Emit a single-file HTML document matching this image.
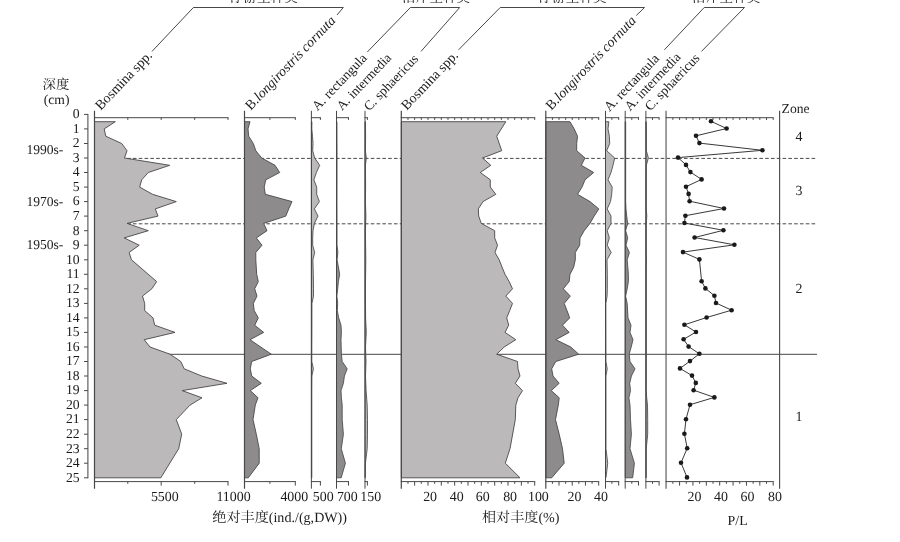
<!DOCTYPE html>
<html lang="zh">
<head>
<meta charset="utf-8">
<title>Cladocera stratigraphy</title>
<style>
html,body{margin:0;padding:0;background:#fff;}
body{width:900px;height:542px;overflow:hidden;}
svg{display:block;}
.t{font-family:"Liberation Serif","Noto Serif CJK SC",serif;fill:#1c1c1c;text-rendering:geometricPrecision;}
</style>
</head>
<body>
<svg width="900" height="542" viewBox="0 0 900 542">
<rect x="0" y="0" width="900" height="542" fill="#ffffff"/>
<line x1="127.15" y1="158.4" x2="816.5" y2="158.4" stroke="#484848" stroke-width="1" stroke-dasharray="3.6 2.2"/>
<line x1="127.15" y1="223.8" x2="816.5" y2="223.8" stroke="#484848" stroke-width="1" stroke-dasharray="3.6 2.2"/>
<line x1="168" y1="354.3" x2="817" y2="354.3" stroke="#484848" stroke-width="1"/>
<polygon points="94.5,121.7 115.3,121.7 104.2,128.9 105.8,136.2 121.7,143.5 127,150.7 124.5,158.0 169.7,165.3 148.3,172.5 141.7,179.8 139.7,187.1 152.5,194.3 176.3,201.6 155.3,208.9 158,216.1 127,223.4 148.3,230.7 124.2,237.9 139.2,245.2 129.1,252.5 131.5,259.8 156.7,281.6 151.8,288.8 142.5,296.1 144.7,303.4 144.7,310.6 153,317.9 154.7,325.2 175,332.4 144.2,339.7 150,347.0 170,354.2 180.8,361.5 184.2,368.8 201.7,376.0 227,383.3 182.2,390.6 202,397.8 190,405.1 176.3,419.6 181.7,434.2 178.7,448.7 160.8,477.8 94.5,477.8" fill="#bbb9ba" stroke="#484848" stroke-width="0.9" stroke-linejoin="miter"/>
<polygon points="244.5,121.7 250,121.7 248,128.9 248.7,136.2 253.3,143.5 255.8,150.7 261.7,158.0 275,165.3 279.7,172.5 265.8,179.8 264.2,187.1 265.3,194.3 292,201.6 288.7,208.9 285.8,216.1 263.7,223.4 267,230.7 256.3,237.9 262,245.2 255.8,252.5 255.8,259.8 256.7,274.3 258.3,281.6 254.7,288.8 257,296.1 253.3,303.4 254.2,310.6 258.3,317.9 254.7,325.2 263.7,332.4 250,339.7 271.3,354.2 251.7,361.5 250.3,368.8 251.7,376.0 261.3,383.3 250.3,390.6 258,397.8 255.3,405.1 253,419.6 256.3,434.2 259.2,448.7 259.2,463.2 248.3,477.8 244.5,477.8" fill="#8d8b8c" stroke="#484848" stroke-width="0.9" stroke-linejoin="miter"/>
<polygon points="401.3,121.7 505.8,121.7 496.7,136.2 501.7,150.7 482.5,158.0 490.8,165.3 480.3,172.5 490.3,179.8 490.3,187.1 495.8,194.3 483,201.6 478.3,208.9 478.7,216.1 481.3,223.4 494.7,230.7 494.7,237.9 497.5,245.2 495,252.5 499.2,259.8 502,267.0 505,274.3 509.2,281.6 512.5,288.8 505.8,296.1 512.5,303.4 509.7,310.6 506.7,317.9 508.7,325.2 505,332.4 515.8,339.7 504.2,347.0 496.7,354.2 517.5,361.5 518,368.8 520,376.0 515.3,383.3 522.5,390.6 518,397.8 515.8,405.1 515.3,419.6 510,448.7 505.3,463.2 520,477.8 401.3,477.8" fill="#bbb9ba" stroke="#484848" stroke-width="0.9" stroke-linejoin="miter"/>
<polygon points="545.8,121.7 570,121.7 574.2,128.9 577.5,136.2 576.7,143.5 576.7,150.7 585,158.0 581.3,165.3 593.7,172.5 585,179.8 582,187.1 577.5,194.3 590,201.6 598.8,208.9 594.2,216.1 590,223.4 584.2,230.7 580,237.9 579.7,245.2 575.3,252.5 575.3,259.8 573.7,267.0 570,274.3 569.2,281.6 563.3,288.8 570.3,296.1 564.2,303.4 567,310.6 569.7,317.9 562.5,325.2 569.2,332.4 555.8,339.7 570.8,347.0 578.7,354.2 555.8,361.5 551.7,368.8 553,376.0 559.2,383.3 551.3,390.6 559.2,397.8 558.3,405.1 555.5,419.6 559.2,434.2 562.5,448.7 564.2,463.2 551.7,477.8 545.8,477.8" fill="#8d8b8c" stroke="#484848" stroke-width="0.9" stroke-linejoin="miter"/>
<polygon points="311.4,121.7 311.91,121.7 311.82,128.9 312.5,136.2 313.0,143.5 312.7,150.7 314.7,158.0 319.7,165.3 316.4,172.5 313.9,179.8 316.7,187.1 316.7,194.3 319.4,201.6 314.4,208.9 318.0,216.1 314.4,223.4 313.0,230.7 312.7,237.9 312.7,245.2 314.7,252.5 312.9,259.8 313.3,274.3 313.5,288.8 313.5,296.1 311.95,303.4 311.91,317.9 311.91,332.4 311.82,347.0 311.82,361.5 313.4,368.8 311.91,376.0 311.82,390.6 311.82,405.1 311.82,419.6 311.82,477.8 311.4,477.8" fill="#bbb9ba" stroke="#484848" stroke-width="0.85" stroke-linejoin="miter"/>
<polygon points="336.5,121.7 336.96,121.7 337.05,158.0 337.01,201.6 337.05,245.2 337.9,252.5 337.1,259.8 338.4,267.0 339.7,274.3 338.4,281.6 337.7,288.8 336.88,296.1 337.7,303.4 337.3,310.6 338.7,317.9 341.0,325.2 341.4,332.4 341.0,339.7 341.2,347.0 341.4,354.2 342.2,361.5 347.2,368.8 344.4,376.0 343.4,383.3 341.0,390.6 341.4,397.8 342.2,405.1 342.2,419.6 343.4,434.2 341.3,448.7 345.4,463.2 341.2,477.8 336.5,477.8" fill="#8d8b8c" stroke="#484848" stroke-width="0.85" stroke-linejoin="miter"/>
<polygon points="365.0,121.7 365.42,121.7 365.6,136.2 365.42,150.7 366.3,158.0 365.46,165.3 365.6,187.1 365.42,201.6 365.9,216.1 365.42,230.7 365.8,259.8 365.42,288.8 365.6,317.9 366.3,332.4 365.51,347.0 366.0,361.5 365.51,376.0 366.1,390.6 367.2,405.1 367.5,419.6 367.5,434.2 367.2,448.7 365.42,463.2 365.33,477.8 365.0,477.8" fill="#bbb9ba" stroke="#484848" stroke-width="0.85" stroke-linejoin="miter"/>
<polygon points="605.5,121.7 608.9,121.7 608.0,128.9 609.4,136.2 609.7,143.5 606.7,150.7 614.7,158.0 613.0,165.3 611.0,172.5 608.0,179.8 612.2,187.1 611.7,194.3 610.5,201.6 607.2,208.9 611.0,216.1 611.0,223.4 607.2,230.7 609.4,237.9 607.2,245.2 611.2,252.5 607.0,259.8 607.3,274.3 607.3,288.8 607.1,296.1 605.88,303.4 605.97,361.5 607.2,368.8 605.97,376.0 606.01,448.7 607.7,463.2 605.97,477.8 605.5,477.8" fill="#bbb9ba" stroke="#484848" stroke-width="0.85" stroke-linejoin="miter"/>
<polygon points="625.2,121.7 625.66,121.7 625.66,201.6 626.0,208.9 626.7,216.1 627.7,223.4 625.62,230.7 627.7,237.9 626.0,245.2 629.4,252.5 627.2,259.8 628.4,274.3 628.4,281.6 627.2,288.8 625.62,296.1 627.2,303.4 628.0,317.9 631.0,325.2 630.0,332.4 633.0,339.7 631.2,347.0 629.2,354.2 630.0,361.5 635.0,368.8 631.4,376.0 629.7,383.3 630.5,390.6 628.9,397.8 630.0,405.1 630.5,419.6 631.4,434.2 630.0,448.7 634.4,463.2 632.7,477.8 625.2,477.8" fill="#8d8b8c" stroke="#484848" stroke-width="0.85" stroke-linejoin="miter"/>
<polygon points="645.9,121.7 646.23,121.7 646.37,128.9 646.32,150.7 648.4,158.0 646.32,165.3 646.27,208.9 646.8,216.1 646.23,223.4 646.27,252.5 646.5,259.8 646.27,267.0 646.23,390.6 646.7,397.8 647.5,405.1 647.7,419.6 647.7,434.2 646.23,448.7 646.18,477.8 645.9,477.8" fill="#bbb9ba" stroke="#484848" stroke-width="0.85" stroke-linejoin="miter"/>
<line x1="87.9" y1="113.9" x2="87.9" y2="478.3" stroke="#484848" stroke-width="1.05"/>
<line x1="84" y1="114.4" x2="87.9" y2="114.4" stroke="#484848" stroke-width="1"/>
<text class="t" x="79.6" y="118.2" text-anchor="end" font-size="13.7">0</text>
<line x1="84" y1="128.9" x2="87.9" y2="128.9" stroke="#484848" stroke-width="1"/>
<text class="t" x="79.6" y="132.70000000000002" text-anchor="end" font-size="13.7">1</text>
<line x1="84" y1="143.5" x2="87.9" y2="143.5" stroke="#484848" stroke-width="1"/>
<text class="t" x="79.6" y="147.3" text-anchor="end" font-size="13.7">2</text>
<line x1="84" y1="158.0" x2="87.9" y2="158.0" stroke="#484848" stroke-width="1"/>
<text class="t" x="79.6" y="161.8" text-anchor="end" font-size="13.7">3</text>
<line x1="84" y1="172.5" x2="87.9" y2="172.5" stroke="#484848" stroke-width="1"/>
<text class="t" x="79.6" y="176.3" text-anchor="end" font-size="13.7">4</text>
<line x1="84" y1="187.1" x2="87.9" y2="187.1" stroke="#484848" stroke-width="1"/>
<text class="t" x="79.6" y="190.9" text-anchor="end" font-size="13.7">5</text>
<line x1="84" y1="201.6" x2="87.9" y2="201.6" stroke="#484848" stroke-width="1"/>
<text class="t" x="79.6" y="205.4" text-anchor="end" font-size="13.7">6</text>
<line x1="84" y1="216.1" x2="87.9" y2="216.1" stroke="#484848" stroke-width="1"/>
<text class="t" x="79.6" y="219.9" text-anchor="end" font-size="13.7">7</text>
<line x1="84" y1="230.7" x2="87.9" y2="230.7" stroke="#484848" stroke-width="1"/>
<text class="t" x="79.6" y="234.5" text-anchor="end" font-size="13.7">8</text>
<line x1="84" y1="245.2" x2="87.9" y2="245.2" stroke="#484848" stroke-width="1"/>
<text class="t" x="79.6" y="249.0" text-anchor="end" font-size="13.7">9</text>
<line x1="84" y1="259.8" x2="87.9" y2="259.8" stroke="#484848" stroke-width="1"/>
<text class="t" x="79.6" y="263.6" text-anchor="end" font-size="13.7">10</text>
<line x1="84" y1="274.3" x2="87.9" y2="274.3" stroke="#484848" stroke-width="1"/>
<text class="t" x="79.6" y="278.1" text-anchor="end" font-size="13.7">11</text>
<line x1="84" y1="288.8" x2="87.9" y2="288.8" stroke="#484848" stroke-width="1"/>
<text class="t" x="79.6" y="292.6" text-anchor="end" font-size="13.7">12</text>
<line x1="84" y1="303.4" x2="87.9" y2="303.4" stroke="#484848" stroke-width="1"/>
<text class="t" x="79.6" y="307.2" text-anchor="end" font-size="13.7">13</text>
<line x1="84" y1="317.9" x2="87.9" y2="317.9" stroke="#484848" stroke-width="1"/>
<text class="t" x="79.6" y="321.7" text-anchor="end" font-size="13.7">14</text>
<line x1="84" y1="332.4" x2="87.9" y2="332.4" stroke="#484848" stroke-width="1"/>
<text class="t" x="79.6" y="336.2" text-anchor="end" font-size="13.7">15</text>
<line x1="84" y1="347.0" x2="87.9" y2="347.0" stroke="#484848" stroke-width="1"/>
<text class="t" x="79.6" y="350.8" text-anchor="end" font-size="13.7">16</text>
<line x1="84" y1="361.5" x2="87.9" y2="361.5" stroke="#484848" stroke-width="1"/>
<text class="t" x="79.6" y="365.3" text-anchor="end" font-size="13.7">17</text>
<line x1="84" y1="376.0" x2="87.9" y2="376.0" stroke="#484848" stroke-width="1"/>
<text class="t" x="79.6" y="379.8" text-anchor="end" font-size="13.7">18</text>
<line x1="84" y1="390.6" x2="87.9" y2="390.6" stroke="#484848" stroke-width="1"/>
<text class="t" x="79.6" y="394.40000000000003" text-anchor="end" font-size="13.7">19</text>
<line x1="84" y1="405.1" x2="87.9" y2="405.1" stroke="#484848" stroke-width="1"/>
<text class="t" x="79.6" y="408.90000000000003" text-anchor="end" font-size="13.7">20</text>
<line x1="84" y1="419.6" x2="87.9" y2="419.6" stroke="#484848" stroke-width="1"/>
<text class="t" x="79.6" y="423.40000000000003" text-anchor="end" font-size="13.7">21</text>
<line x1="84" y1="434.2" x2="87.9" y2="434.2" stroke="#484848" stroke-width="1"/>
<text class="t" x="79.6" y="438.0" text-anchor="end" font-size="13.7">22</text>
<line x1="84" y1="448.7" x2="87.9" y2="448.7" stroke="#484848" stroke-width="1"/>
<text class="t" x="79.6" y="452.5" text-anchor="end" font-size="13.7">23</text>
<line x1="84" y1="463.2" x2="87.9" y2="463.2" stroke="#484848" stroke-width="1"/>
<text class="t" x="79.6" y="467.0" text-anchor="end" font-size="13.7">24</text>
<line x1="84" y1="477.8" x2="87.9" y2="477.8" stroke="#484848" stroke-width="1"/>
<text class="t" x="79.6" y="481.6" text-anchor="end" font-size="13.7">25</text>
<line x1="94.5" y1="110.8" x2="94.5" y2="488.7" stroke="#484848" stroke-width="1.2"/>
<line x1="94.0" y1="117.7" x2="228.5" y2="117.7" stroke="#484848" stroke-width="1"/>
<line x1="94.0" y1="481.6" x2="228.5" y2="481.6" stroke="#484848" stroke-width="1"/>
<line x1="127.8" y1="117.7" x2="127.8" y2="119.9" stroke="#484848" stroke-width="1"/>
<line x1="194.7" y1="117.7" x2="194.7" y2="119.9" stroke="#484848" stroke-width="1"/>
<line x1="161.2" y1="117.7" x2="161.2" y2="119.9" stroke="#484848" stroke-width="1"/>
<line x1="228" y1="117.7" x2="228" y2="119.9" stroke="#484848" stroke-width="1"/>
<line x1="127.8" y1="481.6" x2="127.8" y2="483.8" stroke="#484848" stroke-width="1"/>
<line x1="194.7" y1="481.6" x2="194.7" y2="483.8" stroke="#484848" stroke-width="1"/>
<line x1="161.2" y1="481.6" x2="161.2" y2="485.6" stroke="#484848" stroke-width="1"/>
<line x1="228" y1="481.6" x2="228" y2="485.6" stroke="#484848" stroke-width="1"/>
<line x1="244.5" y1="110.8" x2="244.5" y2="488.7" stroke="#484848" stroke-width="1.2"/>
<line x1="244.0" y1="117.7" x2="295.8" y2="117.7" stroke="#484848" stroke-width="1"/>
<line x1="244.0" y1="481.6" x2="295.8" y2="481.6" stroke="#484848" stroke-width="1"/>
<line x1="269.9" y1="117.7" x2="269.9" y2="119.9" stroke="#484848" stroke-width="1"/>
<line x1="295.3" y1="117.7" x2="295.3" y2="119.9" stroke="#484848" stroke-width="1"/>
<line x1="269.9" y1="481.6" x2="269.9" y2="483.8" stroke="#484848" stroke-width="1"/>
<line x1="295.3" y1="481.6" x2="295.3" y2="485.6" stroke="#484848" stroke-width="1"/>
<line x1="311.4" y1="110.8" x2="311.4" y2="488.7" stroke="#484848" stroke-width="1.0"/>
<line x1="310.9" y1="117.7" x2="320.9" y2="117.7" stroke="#484848" stroke-width="1"/>
<line x1="310.9" y1="481.6" x2="320.9" y2="481.6" stroke="#484848" stroke-width="1"/>
<line x1="320.4" y1="117.7" x2="320.4" y2="119.9" stroke="#484848" stroke-width="1"/>
<line x1="320.4" y1="481.6" x2="320.4" y2="485.6" stroke="#484848" stroke-width="1"/>
<line x1="336.5" y1="110.8" x2="336.5" y2="488.7" stroke="#484848" stroke-width="1.0"/>
<line x1="336.0" y1="117.7" x2="349.0" y2="117.7" stroke="#484848" stroke-width="1"/>
<line x1="336.0" y1="481.6" x2="349.0" y2="481.6" stroke="#484848" stroke-width="1"/>
<line x1="348.5" y1="117.7" x2="348.5" y2="119.9" stroke="#484848" stroke-width="1"/>
<line x1="348.5" y1="481.6" x2="348.5" y2="485.6" stroke="#484848" stroke-width="1"/>
<line x1="365.0" y1="110.8" x2="365.0" y2="488.7" stroke="#484848" stroke-width="1.0"/>
<line x1="364.5" y1="117.7" x2="367.9" y2="117.7" stroke="#484848" stroke-width="1"/>
<line x1="364.5" y1="481.6" x2="367.9" y2="481.6" stroke="#484848" stroke-width="1"/>
<line x1="367.4" y1="117.7" x2="367.4" y2="119.9" stroke="#484848" stroke-width="1"/>
<line x1="367.4" y1="481.6" x2="367.4" y2="485.6" stroke="#484848" stroke-width="1"/>
<line x1="401.3" y1="110.8" x2="401.3" y2="488.7" stroke="#484848" stroke-width="1.2"/>
<line x1="400.8" y1="117.7" x2="535.2" y2="117.7" stroke="#484848" stroke-width="1"/>
<line x1="400.8" y1="481.6" x2="535.2" y2="481.6" stroke="#484848" stroke-width="1"/>
<line x1="407.97" y1="117.7" x2="407.97" y2="119.9" stroke="#484848" stroke-width="1"/>
<line x1="421.31" y1="117.7" x2="421.31" y2="119.9" stroke="#484848" stroke-width="1"/>
<line x1="434.65000000000003" y1="117.7" x2="434.65000000000003" y2="119.9" stroke="#484848" stroke-width="1"/>
<line x1="447.99" y1="117.7" x2="447.99" y2="119.9" stroke="#484848" stroke-width="1"/>
<line x1="461.33000000000004" y1="117.7" x2="461.33000000000004" y2="119.9" stroke="#484848" stroke-width="1"/>
<line x1="474.67" y1="117.7" x2="474.67" y2="119.9" stroke="#484848" stroke-width="1"/>
<line x1="488.01" y1="117.7" x2="488.01" y2="119.9" stroke="#484848" stroke-width="1"/>
<line x1="501.35" y1="117.7" x2="501.35" y2="119.9" stroke="#484848" stroke-width="1"/>
<line x1="514.69" y1="117.7" x2="514.69" y2="119.9" stroke="#484848" stroke-width="1"/>
<line x1="528.03" y1="117.7" x2="528.03" y2="119.9" stroke="#484848" stroke-width="1"/>
<line x1="414.64" y1="117.7" x2="414.64" y2="119.9" stroke="#484848" stroke-width="1"/>
<line x1="427.98" y1="117.7" x2="427.98" y2="119.9" stroke="#484848" stroke-width="1"/>
<line x1="441.32" y1="117.7" x2="441.32" y2="119.9" stroke="#484848" stroke-width="1"/>
<line x1="454.66" y1="117.7" x2="454.66" y2="119.9" stroke="#484848" stroke-width="1"/>
<line x1="468.0" y1="117.7" x2="468.0" y2="119.9" stroke="#484848" stroke-width="1"/>
<line x1="481.34000000000003" y1="117.7" x2="481.34000000000003" y2="119.9" stroke="#484848" stroke-width="1"/>
<line x1="494.68" y1="117.7" x2="494.68" y2="119.9" stroke="#484848" stroke-width="1"/>
<line x1="508.02" y1="117.7" x2="508.02" y2="119.9" stroke="#484848" stroke-width="1"/>
<line x1="521.36" y1="117.7" x2="521.36" y2="119.9" stroke="#484848" stroke-width="1"/>
<line x1="534.7" y1="117.7" x2="534.7" y2="119.9" stroke="#484848" stroke-width="1"/>
<line x1="407.97" y1="481.6" x2="407.97" y2="483.8" stroke="#484848" stroke-width="1"/>
<line x1="421.31" y1="481.6" x2="421.31" y2="483.8" stroke="#484848" stroke-width="1"/>
<line x1="434.65000000000003" y1="481.6" x2="434.65000000000003" y2="483.8" stroke="#484848" stroke-width="1"/>
<line x1="447.99" y1="481.6" x2="447.99" y2="483.8" stroke="#484848" stroke-width="1"/>
<line x1="461.33000000000004" y1="481.6" x2="461.33000000000004" y2="483.8" stroke="#484848" stroke-width="1"/>
<line x1="474.67" y1="481.6" x2="474.67" y2="483.8" stroke="#484848" stroke-width="1"/>
<line x1="488.01" y1="481.6" x2="488.01" y2="483.8" stroke="#484848" stroke-width="1"/>
<line x1="501.35" y1="481.6" x2="501.35" y2="483.8" stroke="#484848" stroke-width="1"/>
<line x1="514.69" y1="481.6" x2="514.69" y2="483.8" stroke="#484848" stroke-width="1"/>
<line x1="528.03" y1="481.6" x2="528.03" y2="483.8" stroke="#484848" stroke-width="1"/>
<line x1="414.64" y1="481.6" x2="414.64" y2="485.6" stroke="#484848" stroke-width="1"/>
<line x1="427.98" y1="481.6" x2="427.98" y2="485.6" stroke="#484848" stroke-width="1"/>
<line x1="441.32" y1="481.6" x2="441.32" y2="485.6" stroke="#484848" stroke-width="1"/>
<line x1="454.66" y1="481.6" x2="454.66" y2="485.6" stroke="#484848" stroke-width="1"/>
<line x1="468.0" y1="481.6" x2="468.0" y2="485.6" stroke="#484848" stroke-width="1"/>
<line x1="481.34000000000003" y1="481.6" x2="481.34000000000003" y2="485.6" stroke="#484848" stroke-width="1"/>
<line x1="494.68" y1="481.6" x2="494.68" y2="485.6" stroke="#484848" stroke-width="1"/>
<line x1="508.02" y1="481.6" x2="508.02" y2="485.6" stroke="#484848" stroke-width="1"/>
<line x1="521.36" y1="481.6" x2="521.36" y2="485.6" stroke="#484848" stroke-width="1"/>
<line x1="534.7" y1="481.6" x2="534.7" y2="485.6" stroke="#484848" stroke-width="1"/>
<line x1="545.8" y1="110.8" x2="545.8" y2="488.7" stroke="#484848" stroke-width="1.2"/>
<line x1="545.3" y1="117.7" x2="599.18" y2="117.7" stroke="#484848" stroke-width="1"/>
<line x1="545.3" y1="481.6" x2="599.18" y2="481.6" stroke="#484848" stroke-width="1"/>
<line x1="552.41" y1="117.7" x2="552.41" y2="119.9" stroke="#484848" stroke-width="1"/>
<line x1="565.63" y1="117.7" x2="565.63" y2="119.9" stroke="#484848" stroke-width="1"/>
<line x1="578.8499999999999" y1="117.7" x2="578.8499999999999" y2="119.9" stroke="#484848" stroke-width="1"/>
<line x1="592.0699999999999" y1="117.7" x2="592.0699999999999" y2="119.9" stroke="#484848" stroke-width="1"/>
<line x1="559.02" y1="117.7" x2="559.02" y2="119.9" stroke="#484848" stroke-width="1"/>
<line x1="572.24" y1="117.7" x2="572.24" y2="119.9" stroke="#484848" stroke-width="1"/>
<line x1="585.4599999999999" y1="117.7" x2="585.4599999999999" y2="119.9" stroke="#484848" stroke-width="1"/>
<line x1="598.68" y1="117.7" x2="598.68" y2="119.9" stroke="#484848" stroke-width="1"/>
<line x1="552.41" y1="481.6" x2="552.41" y2="483.8" stroke="#484848" stroke-width="1"/>
<line x1="565.63" y1="481.6" x2="565.63" y2="483.8" stroke="#484848" stroke-width="1"/>
<line x1="578.8499999999999" y1="481.6" x2="578.8499999999999" y2="483.8" stroke="#484848" stroke-width="1"/>
<line x1="592.0699999999999" y1="481.6" x2="592.0699999999999" y2="483.8" stroke="#484848" stroke-width="1"/>
<line x1="559.02" y1="481.6" x2="559.02" y2="485.6" stroke="#484848" stroke-width="1"/>
<line x1="572.24" y1="481.6" x2="572.24" y2="485.6" stroke="#484848" stroke-width="1"/>
<line x1="585.4599999999999" y1="481.6" x2="585.4599999999999" y2="485.6" stroke="#484848" stroke-width="1"/>
<line x1="598.68" y1="481.6" x2="598.68" y2="485.6" stroke="#484848" stroke-width="1"/>
<line x1="605.5" y1="110.8" x2="605.5" y2="488.7" stroke="#484848" stroke-width="1.0"/>
<line x1="605.0" y1="117.7" x2="619.2" y2="117.7" stroke="#484848" stroke-width="1"/>
<line x1="605.0" y1="481.6" x2="619.2" y2="481.6" stroke="#484848" stroke-width="1"/>
<line x1="611.9" y1="117.7" x2="611.9" y2="119.9" stroke="#484848" stroke-width="1"/>
<line x1="618.7" y1="117.7" x2="618.7" y2="119.9" stroke="#484848" stroke-width="1"/>
<line x1="611.9" y1="481.6" x2="611.9" y2="483.8" stroke="#484848" stroke-width="1"/>
<line x1="618.7" y1="481.6" x2="618.7" y2="485.6" stroke="#484848" stroke-width="1"/>
<line x1="625.2" y1="110.8" x2="625.2" y2="488.7" stroke="#484848" stroke-width="1.0"/>
<line x1="624.7" y1="117.7" x2="639.0" y2="117.7" stroke="#484848" stroke-width="1"/>
<line x1="624.7" y1="481.6" x2="639.0" y2="481.6" stroke="#484848" stroke-width="1"/>
<line x1="631.8" y1="117.7" x2="631.8" y2="119.9" stroke="#484848" stroke-width="1"/>
<line x1="638.5" y1="117.7" x2="638.5" y2="119.9" stroke="#484848" stroke-width="1"/>
<line x1="631.8" y1="481.6" x2="631.8" y2="483.8" stroke="#484848" stroke-width="1"/>
<line x1="638.5" y1="481.6" x2="638.5" y2="485.6" stroke="#484848" stroke-width="1"/>
<line x1="645.9" y1="110.8" x2="645.9" y2="488.7" stroke="#484848" stroke-width="1.0"/>
<line x1="645.4" y1="117.7" x2="659.6" y2="117.7" stroke="#484848" stroke-width="1"/>
<line x1="645.4" y1="481.6" x2="659.6" y2="481.6" stroke="#484848" stroke-width="1"/>
<line x1="652.5" y1="117.7" x2="652.5" y2="119.9" stroke="#484848" stroke-width="1"/>
<line x1="659.1" y1="117.7" x2="659.1" y2="119.9" stroke="#484848" stroke-width="1"/>
<line x1="652.5" y1="481.6" x2="652.5" y2="483.8" stroke="#484848" stroke-width="1"/>
<line x1="659.1" y1="481.6" x2="659.1" y2="485.6" stroke="#484848" stroke-width="1"/>
<line x1="666.05" y1="110.8" x2="666.05" y2="488.7" stroke="#484848" stroke-width="1.05"/>
<line x1="665.55" y1="117.7" x2="773.7" y2="117.7" stroke="#484848" stroke-width="1"/>
<line x1="665.55" y1="481.6" x2="773.7" y2="481.6" stroke="#484848" stroke-width="1"/>
<line x1="672.8875" y1="117.7" x2="672.8875" y2="119.9" stroke="#484848" stroke-width="1"/>
<line x1="686.2625" y1="117.7" x2="686.2625" y2="119.9" stroke="#484848" stroke-width="1"/>
<line x1="699.6375" y1="117.7" x2="699.6375" y2="119.9" stroke="#484848" stroke-width="1"/>
<line x1="713.0125" y1="117.7" x2="713.0125" y2="119.9" stroke="#484848" stroke-width="1"/>
<line x1="726.3875" y1="117.7" x2="726.3875" y2="119.9" stroke="#484848" stroke-width="1"/>
<line x1="739.7625" y1="117.7" x2="739.7625" y2="119.9" stroke="#484848" stroke-width="1"/>
<line x1="753.1375" y1="117.7" x2="753.1375" y2="119.9" stroke="#484848" stroke-width="1"/>
<line x1="766.5125" y1="117.7" x2="766.5125" y2="119.9" stroke="#484848" stroke-width="1"/>
<line x1="679.575" y1="117.7" x2="679.575" y2="119.9" stroke="#484848" stroke-width="1"/>
<line x1="692.95" y1="117.7" x2="692.95" y2="119.9" stroke="#484848" stroke-width="1"/>
<line x1="706.325" y1="117.7" x2="706.325" y2="119.9" stroke="#484848" stroke-width="1"/>
<line x1="719.7" y1="117.7" x2="719.7" y2="119.9" stroke="#484848" stroke-width="1"/>
<line x1="733.075" y1="117.7" x2="733.075" y2="119.9" stroke="#484848" stroke-width="1"/>
<line x1="746.45" y1="117.7" x2="746.45" y2="119.9" stroke="#484848" stroke-width="1"/>
<line x1="759.825" y1="117.7" x2="759.825" y2="119.9" stroke="#484848" stroke-width="1"/>
<line x1="773.2" y1="117.7" x2="773.2" y2="119.9" stroke="#484848" stroke-width="1"/>
<line x1="672.8875" y1="481.6" x2="672.8875" y2="483.8" stroke="#484848" stroke-width="1"/>
<line x1="686.2625" y1="481.6" x2="686.2625" y2="483.8" stroke="#484848" stroke-width="1"/>
<line x1="699.6375" y1="481.6" x2="699.6375" y2="483.8" stroke="#484848" stroke-width="1"/>
<line x1="713.0125" y1="481.6" x2="713.0125" y2="483.8" stroke="#484848" stroke-width="1"/>
<line x1="726.3875" y1="481.6" x2="726.3875" y2="483.8" stroke="#484848" stroke-width="1"/>
<line x1="739.7625" y1="481.6" x2="739.7625" y2="483.8" stroke="#484848" stroke-width="1"/>
<line x1="753.1375" y1="481.6" x2="753.1375" y2="483.8" stroke="#484848" stroke-width="1"/>
<line x1="766.5125" y1="481.6" x2="766.5125" y2="483.8" stroke="#484848" stroke-width="1"/>
<line x1="679.575" y1="481.6" x2="679.575" y2="485.6" stroke="#484848" stroke-width="1"/>
<line x1="692.95" y1="481.6" x2="692.95" y2="485.6" stroke="#484848" stroke-width="1"/>
<line x1="706.325" y1="481.6" x2="706.325" y2="485.6" stroke="#484848" stroke-width="1"/>
<line x1="719.7" y1="481.6" x2="719.7" y2="485.6" stroke="#484848" stroke-width="1"/>
<line x1="733.075" y1="481.6" x2="733.075" y2="485.6" stroke="#484848" stroke-width="1"/>
<line x1="746.45" y1="481.6" x2="746.45" y2="485.6" stroke="#484848" stroke-width="1"/>
<line x1="759.825" y1="481.6" x2="759.825" y2="485.6" stroke="#484848" stroke-width="1"/>
<line x1="773.2" y1="481.6" x2="773.2" y2="485.6" stroke="#484848" stroke-width="1"/>
<line x1="779.6" y1="110.8" x2="779.6" y2="488.7" stroke="#484848" stroke-width="1.1"/>
<polyline fill="none" stroke="#222" stroke-width="0.9" points="711,121.3 726.6,128.5 696,135.8 699.4,143.1 762.4,150.3 678,157.6 686,164.9 690.4,172.1 701.6,179.4 686,186.7 688.6,193.9 689.6,201.2 724,208.5 685.4,215.7 684.4,223.0 723.4,230.3 694.6,237.5 734.4,244.8 683,252.1 699.4,259.4 701.6,281.2 705.4,288.4 714.4,295.7 716,303.0 731.6,310.2 706.6,317.5 684.4,324.8 696,332.0 683.6,339.3 688.6,346.6 699.4,353.8 690,361.1 680,368.4 692,375.6 695.8,382.9 693.6,390.2 714.4,397.4 690,404.7 686,419.2 684.4,433.8 687.2,448.3 681,462.8 687,477.4"/>
<circle cx="711" cy="121.3" r="2.3" fill="#1a1a1a"/>
<circle cx="726.6" cy="128.5" r="2.3" fill="#1a1a1a"/>
<circle cx="696" cy="135.8" r="2.3" fill="#1a1a1a"/>
<circle cx="699.4" cy="143.1" r="2.3" fill="#1a1a1a"/>
<circle cx="762.4" cy="150.3" r="2.3" fill="#1a1a1a"/>
<circle cx="678" cy="157.6" r="2.3" fill="#1a1a1a"/>
<circle cx="686" cy="164.9" r="2.3" fill="#1a1a1a"/>
<circle cx="690.4" cy="172.1" r="2.3" fill="#1a1a1a"/>
<circle cx="701.6" cy="179.4" r="2.3" fill="#1a1a1a"/>
<circle cx="686" cy="186.7" r="2.3" fill="#1a1a1a"/>
<circle cx="688.6" cy="193.9" r="2.3" fill="#1a1a1a"/>
<circle cx="689.6" cy="201.2" r="2.3" fill="#1a1a1a"/>
<circle cx="724" cy="208.5" r="2.3" fill="#1a1a1a"/>
<circle cx="685.4" cy="215.7" r="2.3" fill="#1a1a1a"/>
<circle cx="684.4" cy="223.0" r="2.3" fill="#1a1a1a"/>
<circle cx="723.4" cy="230.3" r="2.3" fill="#1a1a1a"/>
<circle cx="694.6" cy="237.5" r="2.3" fill="#1a1a1a"/>
<circle cx="734.4" cy="244.8" r="2.3" fill="#1a1a1a"/>
<circle cx="683" cy="252.1" r="2.3" fill="#1a1a1a"/>
<circle cx="699.4" cy="259.4" r="2.3" fill="#1a1a1a"/>
<circle cx="701.6" cy="281.2" r="2.3" fill="#1a1a1a"/>
<circle cx="705.4" cy="288.4" r="2.3" fill="#1a1a1a"/>
<circle cx="714.4" cy="295.7" r="2.3" fill="#1a1a1a"/>
<circle cx="716" cy="303.0" r="2.3" fill="#1a1a1a"/>
<circle cx="731.6" cy="310.2" r="2.3" fill="#1a1a1a"/>
<circle cx="706.6" cy="317.5" r="2.3" fill="#1a1a1a"/>
<circle cx="684.4" cy="324.8" r="2.3" fill="#1a1a1a"/>
<circle cx="696" cy="332.0" r="2.3" fill="#1a1a1a"/>
<circle cx="683.6" cy="339.3" r="2.3" fill="#1a1a1a"/>
<circle cx="688.6" cy="346.6" r="2.3" fill="#1a1a1a"/>
<circle cx="699.4" cy="353.8" r="2.3" fill="#1a1a1a"/>
<circle cx="690" cy="361.1" r="2.3" fill="#1a1a1a"/>
<circle cx="680" cy="368.4" r="2.3" fill="#1a1a1a"/>
<circle cx="692" cy="375.6" r="2.3" fill="#1a1a1a"/>
<circle cx="695.8" cy="382.9" r="2.3" fill="#1a1a1a"/>
<circle cx="693.6" cy="390.2" r="2.3" fill="#1a1a1a"/>
<circle cx="714.4" cy="397.4" r="2.3" fill="#1a1a1a"/>
<circle cx="690" cy="404.7" r="2.3" fill="#1a1a1a"/>
<circle cx="686" cy="419.2" r="2.3" fill="#1a1a1a"/>
<circle cx="684.4" cy="433.8" r="2.3" fill="#1a1a1a"/>
<circle cx="687.2" cy="448.3" r="2.3" fill="#1a1a1a"/>
<circle cx="681" cy="462.8" r="2.3" fill="#1a1a1a"/>
<circle cx="687" cy="477.4" r="2.3" fill="#1a1a1a"/>
<polyline fill="none" stroke="#484848" stroke-width="1" points="152,51.4 193.4,7.5 343.3,7.5 337,15"/>
<polyline fill="none" stroke="#484848" stroke-width="1" points="367.3,52 410.4,7.5 459.7,7.5 421,51.4"/>
<polyline fill="none" stroke="#484848" stroke-width="1" points="458.6,49.8 500.2,7.5 644.5,7.5 636.3,15.5"/>
<polyline fill="none" stroke="#484848" stroke-width="1" points="664.4,49.8 704.2,7.5 744.5,7.5 701.5,51.4"/>
<text class="t" x="263.8" y="1.6" text-anchor="middle" font-size="13.6">浮游型种类</text>
<text class="t" x="436.2" y="1.6" text-anchor="middle" font-size="13.6">沿岸型种类</text>
<text class="t" x="572.6" y="1.6" text-anchor="middle" font-size="13.6">浮游型种类</text>
<text class="t" x="726.3" y="1.6" text-anchor="middle" font-size="13.6">沿岸型种类</text>
<text class="t" font-size="13.9" transform="translate(100.7,110.7) rotate(-46.3)">Bosmina spp.</text>
<text class="t" font-size="13.9" transform="translate(250.7,110.7) rotate(-46.3)">B.<tspan font-style="italic">longirostris cornuta</tspan></text>
<text class="t" font-size="13.5" transform="translate(317.5,111.2) rotate(-46.3)">A. rectangula</text>
<text class="t" font-size="13.2" transform="translate(342.0,110.9) rotate(-46.3)">A. intermedia</text>
<text class="t" font-size="13.4" transform="translate(369.2,111.60000000000001) rotate(-46.3)">C. sphaericus</text>
<text class="t" font-size="13.9" transform="translate(406.7,110.7) rotate(-46.3)">Bosmina spp.</text>
<text class="t" font-size="13.9" transform="translate(551.2,110.7) rotate(-46.3)">B.<tspan font-style="italic">longirostris cornuta</tspan></text>
<text class="t" font-size="13.6" transform="translate(609.4000000000001,112.10000000000001) rotate(-46.3)">A. rectangula</text>
<text class="t" font-size="13.5" transform="translate(630.0,111.4) rotate(-46.3)">A. intermedia</text>
<text class="t" font-size="13.5" transform="translate(650.2,111.4) rotate(-46.3)">C. sphaericus</text>
<text class="t" x="56" y="88.9" text-anchor="middle" font-size="13.4">深度</text>
<text class="t" x="56.6" y="104.4" text-anchor="middle" font-size="13.6">(cm)</text>
<text class="t" x="63.4" y="154.4" text-anchor="end" font-size="13.6">1990s-</text>
<text class="t" x="63.4" y="205.7" text-anchor="end" font-size="13.6">1970s-</text>
<text class="t" x="63.4" y="249.1" text-anchor="end" font-size="13.6">1950s-</text>
<text class="t" x="164.8" y="501.4" text-anchor="middle" font-size="13.9">5500</text>
<text class="t" x="233.5" y="501.4" text-anchor="middle" font-size="13.9">11000</text>
<text class="t" x="294.3" y="501.4" text-anchor="middle" font-size="13.9">4000</text>
<text class="t" x="323.2" y="501.4" text-anchor="middle" font-size="13.9">500</text>
<text class="t" x="347.3" y="501.4" text-anchor="middle" font-size="13.9">700</text>
<text class="t" x="370.7" y="501.4" text-anchor="middle" font-size="13.9">150</text>
<text class="t" x="430.1" y="501.4" text-anchor="middle" font-size="13.9">20</text>
<text class="t" x="456.8" y="501.4" text-anchor="middle" font-size="13.9">40</text>
<text class="t" x="482.8" y="501.4" text-anchor="middle" font-size="13.9">60</text>
<text class="t" x="510.1" y="501.4" text-anchor="middle" font-size="13.9">80</text>
<text class="t" x="538.4" y="501.4" text-anchor="middle" font-size="13.9">100</text>
<text class="t" x="574.5" y="501.4" text-anchor="middle" font-size="13.9">20</text>
<text class="t" x="601" y="501.4" text-anchor="middle" font-size="13.9">40</text>
<text class="t" x="694.4" y="501.4" text-anchor="middle" font-size="13.9">20</text>
<text class="t" x="721" y="501.4" text-anchor="middle" font-size="13.9">40</text>
<text class="t" x="747.4" y="501.4" text-anchor="middle" font-size="13.9">60</text>
<text class="t" x="775" y="501.4" text-anchor="middle" font-size="13.9">80</text>
<text class="t" x="279.7" y="522.2" text-anchor="middle" font-size="14.1">绝对丰度(ind./(g,DW))</text>
<text class="t" x="520.8" y="522.2" text-anchor="middle" font-size="14.1">相对丰度(%)</text>
<text class="t" x="737.6" y="525" text-anchor="middle" font-size="13.9">P/L</text>
<text class="t" x="781.6" y="112.6" text-anchor="start" font-size="13.6">Zone</text>
<text class="t" x="799" y="141.4" text-anchor="middle" font-size="13.9">4</text>
<text class="t" x="799" y="195.4" text-anchor="middle" font-size="13.9">3</text>
<text class="t" x="799" y="293.4" text-anchor="middle" font-size="13.9">2</text>
<text class="t" x="799" y="421.0" text-anchor="middle" font-size="13.9">1</text>
</svg>
</body>
</html>
